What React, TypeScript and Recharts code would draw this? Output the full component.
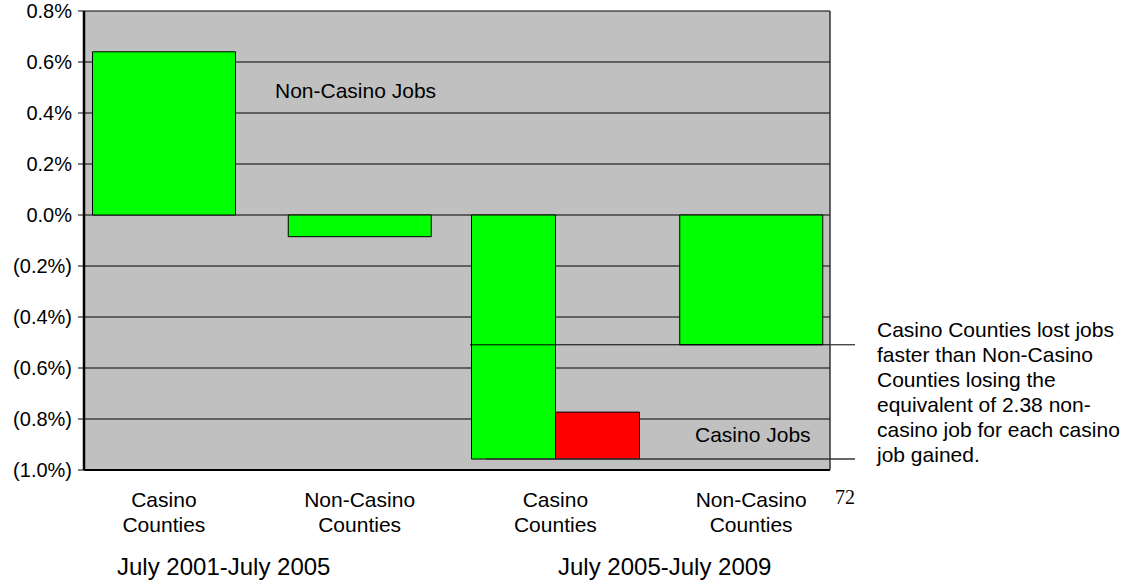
import { BarChart, Bar, XAxis, YAxis, CartesianGrid, ReferenceLine, Rectangle } from "recharts";

// category keys are unique, the labels repeat for the two periods
const categoryKeys = ["casino-0105", "noncasino-0105", "casino-0509", "noncasino-0509"];
const categoryLines = [
  ["Casino", "Counties"],
  ["Non-Casino", "Counties"],
  ["Casino", "Counties"],
  ["Non-Casino", "Counties"],
];
const periods = ["July 2001-July 2005", "July 2005-July 2009"];

// % change in jobs
const nonCasinoJobs = [0.64, -0.085, -0.957, -0.509];
const casinoJobsTop = [null, null, -0.773, null];
const casinoJobsBottom = [null, null, -0.957, null];

const yTicks = [0.8, 0.6, 0.4, 0.2, 0, -0.2, -0.4, -0.6, -0.8, -1.0];

const note = [
  "Casino Counties lost jobs",
  "faster than Non-Casino",
  "Counties losing the",
  "equivalent of 2.38 non-",
  "casino job for each casino",
  "job gained.",
];

const FONT = "'Liberation Sans', Arial, sans-serif";
const HALF_BAR = 84;
const SINGLE_BAR = 143;

const data = categoryKeys.map((key, i) => ({
  key,
  nonCasino: [0, nonCasinoJobs[i]],
  casino: casinoJobsTop[i] == null ? null : [casinoJobsBottom[i], casinoJobsTop[i]],
}));

const fmtPct = (v: number) => {
  const s = Math.abs(v).toFixed(1) + "%";
  return v < 0 ? `(${s})` : s;
};

function GreenShape(props: any) {
  const { x, y, width, height, payload } = props;
  const top = Math.min(y, y + height);
  const h = Math.abs(height);
  if (payload.casino == null) {
    // no casino bar next to it: draw wide, centred on the group
    const cx = x + width;
    return <Rectangle x={cx - SINGLE_BAR / 2} y={top} width={SINGLE_BAR} height={h} fill="#00ff00" stroke="#000" strokeWidth={1} />;
  }
  return <Rectangle x={x} y={top} width={width} height={h} fill="#00ff00" stroke="#000" strokeWidth={1} />;
}

function CategoryTick(props: any) {
  const { x, y, index } = props;
  const lines = categoryLines[index] || [];
  return (
    <text x={x} y={y} textAnchor="middle" fontFamily={FONT} fontSize={21} fill="#000">
      {lines.map((l, i) => (
        <tspan key={i} x={x} dy={i === 0 ? 37 : 25}>{l}</tspan>
      ))}
    </text>
  );
}

export default function App() {
  return (
    <div style={{ position: "absolute", left: 0, top: 0, width: 1124, height: 583, background: "#fff", fontFamily: FONT }}>
      <BarChart
        width={1124}
        height={583}
        data={data}
        margin={{ top: 11, right: 293, bottom: 0, left: 0 }}
        barGap={0}
      >
        <CartesianGrid vertical={false} stroke="#000" strokeWidth={1} fill="#c0c0c0" fillOpacity={1} />
        <XAxis
          dataKey="key"
          height={113}
          padding={{ left: -18, right: -19 }}
          tickLine={false}
          tickSize={0}
          tickMargin={0}
          axisLine={{ stroke: "#000", strokeWidth: 2 }}
          tick={<CategoryTick />}
          interval={0}
        />
        <YAxis
          width={84}
          domain={[-1, 0.8]}
          ticks={yTicks}
          interval={0}
          tickFormatter={fmtPct}
          tickSize={6}
          tickMargin={6}
          tickLine={{ stroke: "#000" }}
          axisLine={{ stroke: "#000", strokeWidth: 2.5 }}
          tick={{ fill: "#000", fontSize: 20, fontFamily: FONT }}
        />
        <YAxis
          yAxisId="right"
          orientation="right"
          width={1}
          domain={[-1, 0.8]}
          ticks={yTicks}
          tick={false}
          tickLine={false}
          axisLine={{ stroke: "#333", strokeWidth: 1.5 }}
        />
        <Bar dataKey="nonCasino" barSize={HALF_BAR} shape={<GreenShape />} isAnimationActive={false} />
        <Bar dataKey="casino" barSize={HALF_BAR} fill="#ff0000" stroke="#000" strokeWidth={1} isAnimationActive={false} />
        <ReferenceLine
          y={nonCasinoJobs[3]}
          shape={(p: any) => <line x1={p.x1 + 386} y1={p.y1} x2={p.x2 + 25} y2={p.y2} stroke="#000" strokeWidth={1} />}
        />
        <ReferenceLine
          y={casinoJobsBottom[2] as number}
          shape={(p: any) => <line x1={p.x1 + 402} y1={p.y1} x2={p.x2 + 25} y2={p.y2} stroke="#333" strokeWidth={1.5} />}
        />
      </BarChart>

      <div style={{ position: "absolute", left: 275, top: 79, fontSize: 21, lineHeight: "24px", whiteSpace: "nowrap" }}>Non-Casino Jobs</div>
      <div style={{ position: "absolute", left: 695, top: 423, fontSize: 21, lineHeight: "24px", whiteSpace: "nowrap" }}>Casino Jobs</div>

      <div style={{ position: "absolute", left: 877, top: 317, fontSize: 21, lineHeight: "25px", whiteSpace: "nowrap" }}>
        {note.map((l, i) => (
          <div key={i}>{l}</div>
        ))}
      </div>

      <div style={{ position: "absolute", left: 117, top: 553, fontSize: 24, lineHeight: "28px", whiteSpace: "nowrap" }}>{periods[0]}</div>
      <div style={{ position: "absolute", left: 558, top: 553, fontSize: 24, lineHeight: "28px", whiteSpace: "nowrap" }}>{periods[1]}</div>

      <div style={{ position: "absolute", left: 835, top: 485, fontSize: 20, lineHeight: "24px", fontFamily: "'Liberation Serif', 'Times New Roman', serif" }}>72</div>
    </div>
  );
}
